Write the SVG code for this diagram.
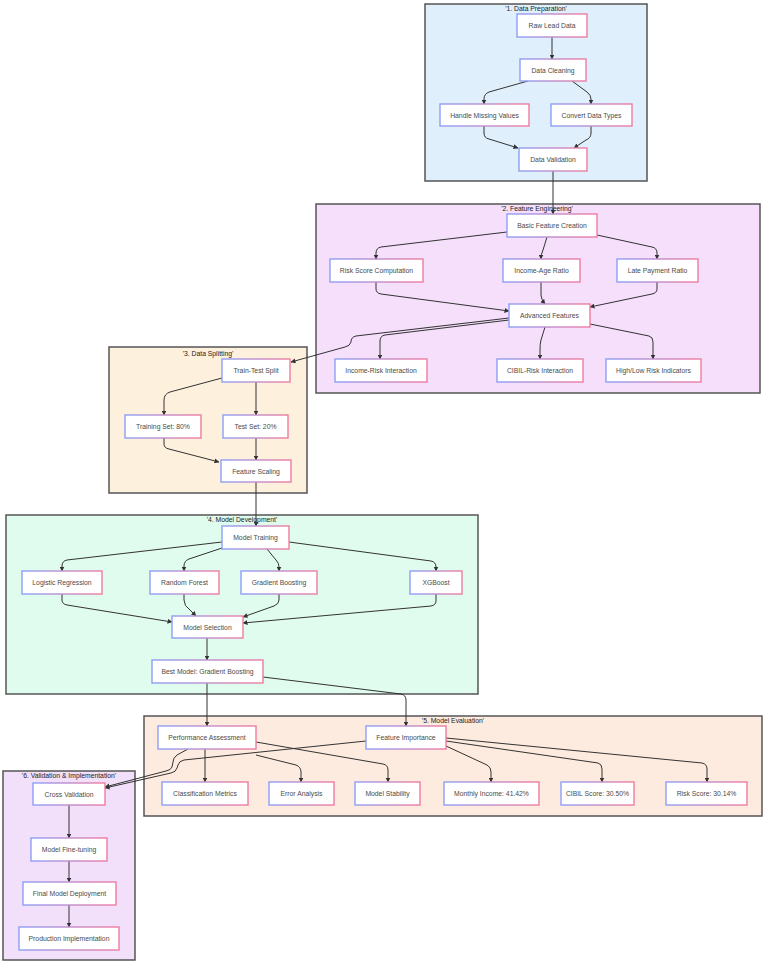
<svg xmlns="http://www.w3.org/2000/svg" width="767" height="965" viewBox="0 0 767 965">
<defs>
<linearGradient id="g" x1="0" y1="0" x2="1" y2="0">
<stop offset="0" stop-color="#8d9ef7"/>
<stop offset="1" stop-color="#f07ba0"/>
</linearGradient>
<marker id="arr" viewBox="0 0 10 10" refX="9" refY="5" markerWidth="5" markerHeight="5" orient="auto" markerUnits="userSpaceOnUse">
<path d="M0,0 L10,5 L0,10 z" fill="#333"/>
</marker>
<style>
.cl{stroke:#555;stroke-width:1.5}
.nd rect{fill:#fff;stroke:url(#g);stroke-width:1.4}
.nd text{font-family:"Liberation Sans",Arial,sans-serif;font-size:6.8px;fill:#4a4a4a;text-anchor:middle;dominant-baseline:central}
.tt{font-family:"Liberation Sans",Arial,sans-serif;font-size:6.8px;fill:#222;text-anchor:middle}
#edges path{fill:none;stroke:#333;stroke-width:1;marker-end:url(#arr)}
</style>
</defs>
<rect width="767" height="965" fill="#fff"/>
<g id="clusters">
<g id="c1"><rect class="cl" x="425" y="4" width="222" height="177" fill="#dff0fc"/><text class="tt" x="536" y="11">'1. Data Preparation'</text></g>
<g id="c2"><rect class="cl" x="316" y="204" width="444" height="189" fill="#f5dffb"/><text class="tt" x="537" y="211">'2. Feature Engineering'</text></g>
<g id="c3"><rect class="cl" x="109" y="347" width="198" height="146" fill="#fdf0dd"/><text class="tt" x="208" y="356">'3. Data Splitting'</text></g>
<g id="c4"><rect class="cl" x="6" y="515" width="472" height="179" fill="#e0fcee"/><text class="tt" x="242" y="522">'4. Model Development'</text></g>
<g id="c5"><rect class="cl" x="144" y="716" width="618" height="100" fill="#fdebdf"/><text class="tt" x="453" y="723">'5. Model Evaluation'</text></g>
<g id="c6"><rect class="cl" x="3" y="771" width="132" height="189" fill="#f2e0fb"/><text class="tt" x="69" y="778">'6. Validation &amp; Implementation'</text></g>
</g>
<g id="edges">
<path d="M552,37 L552,59"/>
<path d="M528,81 L489,92 Q484,94 484,99 L484,104"/>
<path d="M572,81 L587,92 Q591,95 591,99 L591,104"/>
<path d="M484,126 L484,133 Q484,138 489,139 L518,148"/>
<path d="M591,126 L591,133 Q591,138 586,140 L574,148"/>
<path d="M553,171 L553,214"/>
<path d="M507,232 L381,247 Q376,248 376,253 L376,259"/>
<path d="M547,237 L543,250 Q541,254 541,259"/>
<path d="M597,235 L652,247 Q657,248 657,253 L657,259"/>
<path d="M376,282 L376,289 Q376,293 381,294 L509,311"/>
<path d="M541,282 L541,295 Q541,299 545,304"/>
<path d="M657,282 L657,289 Q657,293 652,294 L590,307"/>
<path d="M509,320 L385,335 Q380,336 380,341 L380,359"/>
<path d="M545,327 L541,340 Q540,344 540,349 L540,359"/>
<path d="M590,324 L649,336 Q653,337 653,342 L653,359"/>
<path d="M509,318 L356,336 Q351,337 351,342 Q350,346 345,347 L291,362"/>
<path d="M222,378 L170,392 Q164,394 164,400 L164,415"/>
<path d="M256,382 L256,415"/>
<path d="M164,438 L164,444 Q164,448 169,449 L219,462"/>
<path d="M256,438 L256,460"/>
<path d="M256,482 L256,526"/>
<path d="M222,542 L67,560 Q62,561 62,566 L62,571"/>
<path d="M222,548 L189,559 Q184,561 184,566 L184,571"/>
<path d="M267,549 L276,560 Q279,563 279,567 L279,571"/>
<path d="M289,542 L431,561 Q436,562 436,567 L436,571"/>
<path d="M62,594 L62,600 Q62,604 67,605 L172,622"/>
<path d="M184,594 L184,600 Q184,606 190,610 L196,616"/>
<path d="M279,594 L279,600 Q279,604 274,606 L243,617"/>
<path d="M436,594 L436,601 Q436,605 431,606 L243,623"/>
<path d="M207,638 L207,660"/>
<path d="M207,683 L207,726"/>
<path d="M263,677 L401,694 Q406,695 406,700 L406,726"/>
<path d="M205,749 L205,782"/>
<path d="M256,755 L296,765 Q301,767 301,772 L301,782"/>
<path d="M256,742 L383,764 Q388,765 388,770 L388,782"/>
<path d="M188,749 L177,755 Q173,758 173,762 L172,767 Q171,770 166,771 L105,787"/>
<path d="M366,741 L184,760 Q179,761 178,765 L177,768 Q176,772 171,773 L105,788"/>
<path d="M446,746 L487,765 Q491,767 491,772 L491,782"/>
<path d="M446,741 L598,763 Q602,764 602,769 L602,782"/>
<path d="M446,738 L702,763 Q707,764 707,769 L707,782"/>
<path d="M69,805 L69,838"/>
<path d="M69,861 L69,882"/>
<path d="M69,905 L69,927"/>
</g>
<g id="n-raw" class="nd"><rect x="517" y="14" width="70" height="23"/><text x="552" y="25.5">Raw Lead Data</text></g>
<g id="n-clean" class="nd"><rect x="520" y="59" width="66" height="22"/><text x="553" y="70">Data Cleaning</text></g>
<g id="n-missing" class="nd"><rect x="440" y="104" width="89" height="22"/><text x="484.5" y="115">Handle Missing Values</text></g>
<g id="n-convert" class="nd"><rect x="551" y="104" width="81" height="22"/><text x="591.5" y="115">Convert Data Types</text></g>
<g id="n-valid" class="nd"><rect x="519" y="148" width="68" height="23"/><text x="553" y="159.5">Data Validation</text></g>
<g id="n-basic" class="nd"><rect x="507" y="214" width="90" height="23"/><text x="552" y="225.5">Basic Feature Creation</text></g>
<g id="n-risk" class="nd"><rect x="330" y="259" width="93" height="23"/><text x="376.5" y="270.5">Risk Score Computation</text></g>
<g id="n-incage" class="nd"><rect x="503" y="259" width="77" height="23"/><text x="541.5" y="270.5">Income-Age Ratio</text></g>
<g id="n-late" class="nd"><rect x="617" y="259" width="81" height="23"/><text x="657.5" y="270.5">Late Payment Ratio</text></g>
<g id="n-adv" class="nd"><rect x="509" y="304" width="81" height="23"/><text x="549.5" y="315.5">Advanced Features</text></g>
<g id="n-incrisk" class="nd"><rect x="335" y="359" width="92" height="23"/><text x="381" y="370.5">Income-Risk Interaction</text></g>
<g id="n-cibilrisk" class="nd"><rect x="497" y="359" width="86" height="23"/><text x="540" y="370.5">CIBIL-Risk Interaction</text></g>
<g id="n-highlow" class="nd"><rect x="606" y="359" width="95" height="23"/><text x="653.5" y="370.5">High/Low Risk Indicators</text></g>
<g id="n-split" class="nd"><rect x="222" y="359" width="68" height="23"/><text x="256" y="370.5">Train-Test Split</text></g>
<g id="n-train" class="nd"><rect x="125" y="415" width="76" height="23"/><text x="163" y="426.5">Training Set: 80%</text></g>
<g id="n-test" class="nd"><rect x="223" y="415" width="65" height="23"/><text x="255.5" y="426.5">Test Set: 20%</text></g>
<g id="n-scale" class="nd"><rect x="221" y="460" width="70" height="22"/><text x="256" y="471">Feature Scaling</text></g>
<g id="n-mtrain" class="nd"><rect x="222" y="526" width="67" height="23"/><text x="255.5" y="537.5">Model Training</text></g>
<g id="n-lr" class="nd"><rect x="22" y="571" width="80" height="23"/><text x="62" y="582.5">Logistic Regression</text></g>
<g id="n-rf" class="nd"><rect x="150" y="571" width="69" height="23"/><text x="184.5" y="582.5">Random Forest</text></g>
<g id="n-gb" class="nd"><rect x="241" y="571" width="76" height="23"/><text x="279" y="582.5">Gradient Boosting</text></g>
<g id="n-xgb" class="nd"><rect x="410" y="571" width="52" height="23"/><text x="436" y="582.5">XGBoost</text></g>
<g id="n-msel" class="nd"><rect x="172" y="616" width="71" height="22"/><text x="207.5" y="627">Model Selection</text></g>
<g id="n-best" class="nd"><rect x="152" y="660" width="111" height="23"/><text x="207.5" y="671.5">Best Model: Gradient Boosting</text></g>
<g id="n-perf" class="nd"><rect x="158" y="726" width="98" height="23"/><text x="207" y="737.5">Performance Assessment</text></g>
<g id="n-fi" class="nd"><rect x="366" y="726" width="80" height="23"/><text x="406" y="737.5">Feature Importance</text></g>
<g id="n-cm" class="nd"><rect x="162" y="782" width="86" height="23"/><text x="205" y="793.5">Classification Metrics</text></g>
<g id="n-ea" class="nd"><rect x="269" y="782" width="65" height="23"/><text x="301.5" y="793.5">Error Analysis</text></g>
<g id="n-ms" class="nd"><rect x="355" y="782" width="65" height="23"/><text x="387.5" y="793.5">Model Stability</text></g>
<g id="n-mi" class="nd"><rect x="444" y="782" width="95" height="23"/><text x="491.5" y="793.5">Monthly Income: 41.42%</text></g>
<g id="n-cs" class="nd"><rect x="561" y="782" width="73" height="23"/><text x="597.5" y="793.5">CIBIL Score: 30.50%</text></g>
<g id="n-rs" class="nd"><rect x="666" y="782" width="81" height="23"/><text x="706.5" y="793.5">Risk Score: 30.14%</text></g>
<g id="n-cv" class="nd"><rect x="33" y="783" width="72" height="22"/><text x="69" y="794">Cross Validation</text></g>
<g id="n-ft" class="nd"><rect x="31" y="838" width="76" height="23"/><text x="69" y="849.5">Model Fine-tuning</text></g>
<g id="n-dep" class="nd"><rect x="23" y="882" width="93" height="23"/><text x="69.5" y="893.5">Final Model Deployment</text></g>
<g id="n-prod" class="nd"><rect x="19" y="927" width="100" height="23"/><text x="69" y="938.5">Production Implementation</text></g>
</svg>
